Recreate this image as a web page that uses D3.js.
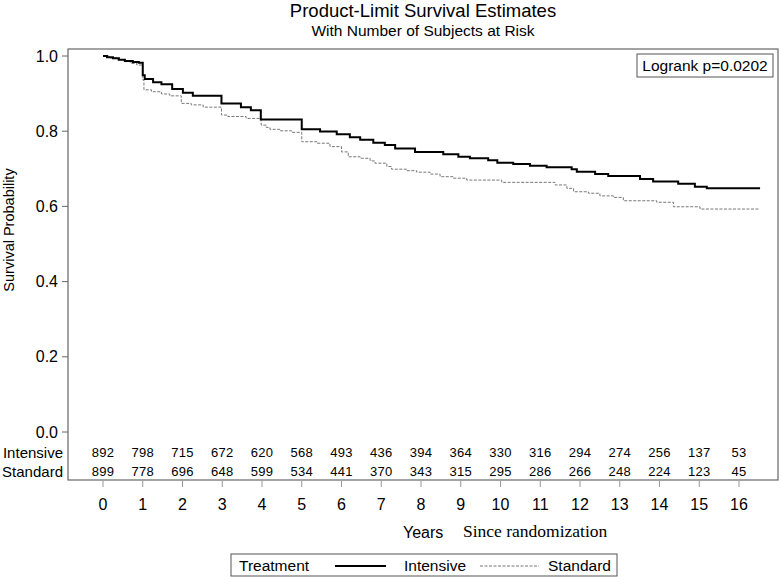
<!DOCTYPE html>
<html>
<head>
<meta charset="utf-8">
<script src="https://cdn.jsdelivr.net/npm/d3@7"></script>
<style>
    body { margin: 0; background: #fff; }
    text { font-family: "Liberation Sans", Arial, sans-serif; }
</style>
</head>
<body>
<div id="chart"></div>
<script>
const width = 782;
const height = 577;

// frame of the plot area
const frame = { left: 68, right: 778, top: 49, bottom: 480 };

const yearTicks = d3.range(0, 17);
const survivalTicks = [0, 0.2, 0.4, 0.6, 0.8, 1.0];

// subjects at risk, one value per year tick
const atRiskIntensive = [892, 798, 715, 672, 620, 568, 493, 436, 394, 364, 330, 316, 294, 274, 256, 137, 53];
const atRiskStandard = [899, 778, 696, 648, 599, 534, 441, 370, 343, 315, 295, 286, 266, 248, 224, 123, 45];

// Kaplan-Meier step points
const intensiveTimes = [0, 0.1, 0.25, 0.4, 0.55, 0.75, 0.9, 1.0, 1.05, 1.26, 1.47, 1.74, 2.01, 2.26, 2.98, 3.47, 3.72, 3.97, 5.0, 5.46, 5.88, 6.21, 6.47, 6.8, 7.09, 7.35, 7.85, 8.56, 8.94, 9.23, 9.69, 9.92, 10.32, 10.74, 11.16, 11.79, 11.92, 12.38, 12.71, 13.51, 13.84, 14.47, 14.89, 15.19, 16.53];
const intensiveSurv = [1.0, 0.997, 0.994, 0.990, 0.987, 0.984, 0.982, 0.949, 0.939, 0.930, 0.925, 0.912, 0.902, 0.894, 0.874, 0.864, 0.856, 0.831, 0.805, 0.799, 0.792, 0.784, 0.777, 0.769, 0.763, 0.754, 0.745, 0.739, 0.732, 0.728, 0.723, 0.716, 0.713, 0.708, 0.704, 0.699, 0.692, 0.686, 0.681, 0.673, 0.666, 0.660, 0.652, 0.648, 0.648];

const standardTimes = [0, 0.15, 0.35, 0.55, 0.7, 0.85, 1.0, 1.03, 1.22, 1.47, 1.68, 1.97, 2.22, 2.52, 2.98, 3.14, 3.6, 3.98, 4.11, 4.2, 4.45, 4.75, 5.0, 5.38, 5.71, 6.0, 6.17, 6.47, 6.72, 6.84, 7.14, 7.26, 7.64, 7.89, 8.23, 8.48, 8.81, 9.15, 10.03, 11.37, 11.67, 11.84, 12.21, 12.5, 12.84, 13.09, 13.93, 14.35, 15.02, 16.53];
const standardSurv = [1.0, 0.995, 0.99, 0.985, 0.98, 0.976, 0.936, 0.910, 0.905, 0.899, 0.894, 0.874, 0.870, 0.864, 0.843, 0.839, 0.834, 0.816, 0.810, 0.805, 0.801, 0.797, 0.772, 0.768, 0.759, 0.745, 0.732, 0.728, 0.721, 0.715, 0.706, 0.699, 0.695, 0.691, 0.686, 0.679, 0.675, 0.670, 0.664, 0.657, 0.648, 0.639, 0.635, 0.628, 0.624, 0.615, 0.611, 0.599, 0.593, 0.593];

const intensive = intensiveTimes.map((t, i) => ({ t: t, s: intensiveSurv[i] }));
const standard = standardTimes.map((t, i) => ({ t: t, s: standardSurv[i] }));

const svg = d3.select('#chart').append('svg')
    .attr('width', width)
    .attr('height', height);

const xScale = d3.scaleLinear()
    .domain([0, 16])
    .range([103, 739]);

const yScale = d3.scaleLinear()
    .domain([0, 1])
    .range([432, 56]);

// titles
svg.append('text')
    .attr('x', (frame.left + frame.right) / 2)
    .attr('y', 17)
    .attr('text-anchor', 'middle')
    .attr('font-size', '18.5px')
    .text('Product-Limit Survival Estimates');

svg.append('text')
    .attr('x', (frame.left + frame.right) / 2)
    .attr('y', 36)
    .attr('text-anchor', 'middle')
    .attr('font-size', '15.5px')
    .text('With Number of Subjects at Risk');

// plot frame
svg.append('rect')
    .attr('x', frame.left)
    .attr('y', frame.top)
    .attr('width', frame.right - frame.left)
    .attr('height', frame.bottom - frame.top)
    .attr('fill', 'none')
    .attr('stroke', '#666')
    .attr('stroke-width', 1.2);

// y axis ticks and labels
svg.selectAll('.y-tick')
    .data(survivalTicks)
    .join('line')
    .attr('class', 'y-tick')
    .attr('x1', frame.left - 6)
    .attr('x2', frame.left)
    .attr('y1', d => yScale(d))
    .attr('y2', d => yScale(d))
    .attr('stroke', '#666');

svg.selectAll('.y-label')
    .data(survivalTicks)
    .join('text')
    .attr('class', 'y-label')
    .attr('x', frame.left - 10)
    .attr('y', d => yScale(d) + 5.5)
    .attr('text-anchor', 'end')
    .attr('font-size', '16px')
    .text(d => d.toFixed(1));

svg.append('text')
    .attr('transform', 'translate(13.5,230) rotate(-90)')
    .attr('text-anchor', 'middle')
    .attr('font-size', '14.5px')
    .text('Survival Probability');

// x axis ticks and labels
svg.selectAll('.x-tick')
    .data(yearTicks)
    .join('line')
    .attr('class', 'x-tick')
    .attr('x1', d => xScale(d))
    .attr('x2', d => xScale(d))
    .attr('y1', frame.bottom + 1)
    .attr('y2', frame.bottom + 7)
    .attr('stroke', '#999');

svg.selectAll('.x-label')
    .data(yearTicks)
    .join('text')
    .attr('class', 'x-label')
    .attr('x', d => xScale(d))
    .attr('y', 510)
    .attr('text-anchor', 'middle')
    .attr('font-size', '16px')
    .text(d => d);

svg.append('text')
    .attr('x', 403)
    .attr('y', 538)
    .attr('font-size', '16px')
    .text('Years');

svg.append('text')
    .attr('x', 463)
    .attr('y', 537)
    .attr('font-size', '17.5px')
    .style('font-family', '"Liberation Serif", "Times New Roman", serif')
    .text('Since randomization');

// survival curves
const lineGenerator = d3.line()
    .x(d => xScale(d.t))
    .y(d => yScale(d.s))
    .curve(d3.curveStepAfter);

svg.append('path')
    .attr('d', lineGenerator(standard))
    .attr('fill', 'none')
    .attr('stroke', '#777')
    .attr('stroke-width', 1)
    .attr('stroke-dasharray', '3,1.5');

svg.append('path')
    .attr('d', lineGenerator(intensive))
    .attr('fill', 'none')
    .attr('stroke', '#000')
    .attr('stroke-width', 2);

// logrank box
svg.append('rect')
    .attr('x', 637)
    .attr('y', 54)
    .attr('width', 136)
    .attr('height', 23)
    .attr('fill', '#fff')
    .attr('stroke', '#555');

svg.append('text')
    .attr('x', 705)
    .attr('y', 71)
    .attr('text-anchor', 'middle')
    .attr('font-size', '15.5px')
    .text('Logrank p=0.0202');

// numbers at risk
const riskRows = [
    { name: 'Intensive', values: atRiskIntensive, y: 457 },
    { name: 'Standard', values: atRiskStandard, y: 476 }
];

riskRows.forEach(row => {
    svg.append('text')
        .attr('x', 63)
        .attr('y', row.y + 1)
        .attr('text-anchor', 'end')
        .attr('font-size', '15px')
        .text(row.name);

    svg.selectAll(`.risk-${row.name}`)
        .data(row.values)
        .join('text')
        .attr('class', `risk-${row.name}`)
        .attr('x', (d, i) => xScale(yearTicks[i]))
        .attr('y', row.y)
        .attr('text-anchor', 'middle')
        .attr('font-size', '13px')
        .style('letter-spacing', '0.3px')
        .text(d => d);
});

// legend
svg.append('rect')
    .attr('x', 231)
    .attr('y', 554)
    .attr('width', 386)
    .attr('height', 22)
    .attr('fill', 'none')
    .attr('stroke', '#555');

svg.append('text')
    .attr('x', 239)
    .attr('y', 571)
    .attr('font-size', '15.5px')
    .text('Treatment');

svg.append('line')
    .attr('x1', 335).attr('x2', 386)
    .attr('y1', 566).attr('y2', 566)
    .attr('stroke', '#000')
    .attr('stroke-width', 2);

svg.append('text')
    .attr('x', 404)
    .attr('y', 571)
    .attr('font-size', '15.5px')
    .text('Intensive');

svg.append('line')
    .attr('x1', 480).attr('x2', 539)
    .attr('y1', 566).attr('y2', 566)
    .attr('stroke', '#777')
    .attr('stroke-width', 1)
    .attr('stroke-dasharray', '3,1.5');

svg.append('text')
    .attr('x', 548)
    .attr('y', 571)
    .attr('font-size', '15.5px')
    .text('Standard');
</script>
</body>
</html>
